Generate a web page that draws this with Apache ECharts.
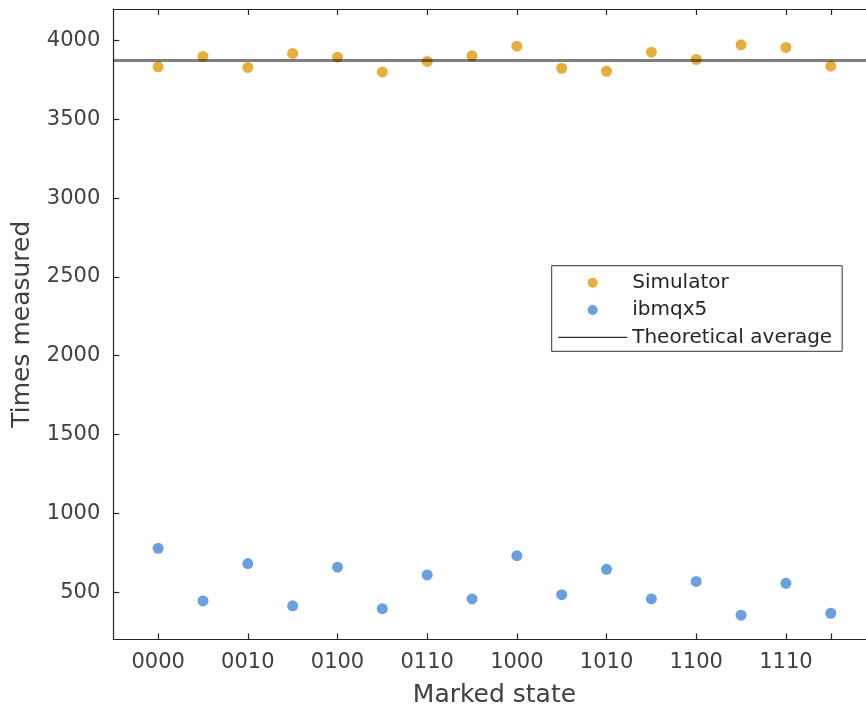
<!DOCTYPE html>
<html>
<head>
<meta charset="utf-8">
<script src="https://cdn.jsdelivr.net/npm/echarts@6/dist/echarts.min.js"></script>
<style>
  html, body { margin: 0; padding: 0; background: #fff; overflow: hidden; }
  #chart { width: 890px; height: 713px; }
</style>
</head>
<body>
<div id="chart"></div>
<script>
// Marked states (x positions are their indices)
const states = ['0000','0001','0010','0011','0100','0101','0110','0111',
                '1000','1001','1010','1011','1100','1101','1110','1111'];
// Counts per marked state
const simulator = [3833, 3899, 3829, 3918, 3894, 3801, 3867, 3903,
                   3964, 3824, 3805, 3926, 3880, 3973, 3956, 3837];
const ibmqx5 = [778, 444, 681, 413, 658, 395, 609, 457,
                731, 484, 645, 457, 568, 354, 556, 366];
const theoreticalAverage = [3873];
// Axis ranges and ticks
const xRange = [-1, 16];
const xLabelTicks = [0, 2, 4, 6, 8, 10, 12, 14];
const xTickMarks = [0, 2, 4, 6, 8, 10, 12, 14, 15];
const yRange = [200, 4200];
const yTicks = [500, 1000, 1500, 2000, 2500, 3000, 3500, 4000];

const FONT = 'DejaVu Sans';
const AXIS = '#262626';
const TEXT = '#404040';

const chart = echarts.init(document.getElementById('chart'), null, { renderer: 'canvas' });

const pts = vals => vals.map((v, i) => [i, v]);

chart.setOption({
  animation: false,
  backgroundColor: '#fff',
  grid: { left: 113.3, right: 14.4, top: 9, bottom: 73.6, containLabel: false, outerBoundsMode: 'none' },
  legend: {
    orient: 'vertical',
    left: 551.7,
    top: 265.7,
    backgroundColor: '#fff',
    borderColor: '#333',
    borderWidth: 1,
    borderRadius: 0,
    padding: [7, 10, 4, 6],
    itemWidth: 69,
    itemHeight: 10,
    itemGap: 7.3,
    textStyle: { fontFamily: FONT, fontSize: 20, color: '#262626', lineHeight: 20 },
    data: [
      { name: 'Simulator', icon: 'circle' },
      { name: 'ibmqx5', icon: 'circle' },
      {
        name: 'Theoretical average',
        lineStyle: { color: '#000', width: 1, opacity: 1 },
        itemStyle: { color: 'rgba(0,0,0,0)', borderColor: 'rgba(0,0,0,0)', borderWidth: 0, opacity: 0 }
      }
    ]
  },
  xAxis: [
    {
      type: 'value',
      min: xRange[0], max: xRange[1], interval: 1,
      position: 'bottom',
      name: 'Marked state',
      nameLocation: 'middle',
      nameGap: 44,
      nameTextStyle: { fontFamily: FONT, fontSize: 25, color: TEXT },
      axisLine: { show: true, onZero: false, lineStyle: { color: AXIS, width: 1.2 } },
      axisTick: { show: true, inside: true, length: 6, customValues: xTickMarks, lineStyle: { color: AXIS, width: 1.2 } },
      axisLabel: {
        customValues: xLabelTicks,
        formatter: v => states[v],
        margin: 13,
        fontFamily: FONT, fontSize: 21, color: TEXT
      },
      splitLine: { show: false }
    },
    {
      type: 'value',
      min: xRange[0], max: xRange[1], interval: 1,
      position: 'top',
      axisLine: { show: true, onZero: false, lineStyle: { color: AXIS, width: 1.2 } },
      axisTick: { show: true, inside: true, length: 6, customValues: xTickMarks, lineStyle: { color: AXIS, width: 1.2 } },
      axisLabel: { show: false },
      splitLine: { show: false }
    }
  ],
  yAxis: {
    type: 'value',
    min: yRange[0], max: yRange[1],
    name: 'Times measured',
    nameLocation: 'middle',
    nameGap: 78,
    nameTextStyle: { fontFamily: FONT, fontSize: 25, color: TEXT },
    axisLine: { show: true, onZero: false, lineStyle: { color: AXIS, width: 1.2 } },
    axisTick: { show: true, inside: true, length: 6, customValues: yTicks, lineStyle: { color: AXIS, width: 1.2 } },
    axisLabel: {
      customValues: yTicks,
      formatter: v => String(v),
      margin: 13, fontFamily: FONT, fontSize: 21, color: TEXT
    },
    splitLine: { show: false }
  },
  series: [
    {
      name: 'Simulator',
      type: 'scatter',
      symbol: 'circle',
      symbolSize: 11,
      itemStyle: { color: '#E8AE3B', opacity: 1 },
      data: pts(simulator)
    },
    {
      name: 'ibmqx5',
      type: 'scatter',
      symbol: 'circle',
      symbolSize: 11,
      itemStyle: { color: '#6A9FE0', opacity: 1 },
      data: pts(ibmqx5)
    },
    {
      name: 'Theoretical average',
      type: 'line',
      symbol: 'none',
      lineStyle: { color: 'rgba(0,0,0,0.5)', width: 3 },
      itemStyle: { color: '#000' },
      data: [[xRange[0], theoreticalAverage[0]], [xRange[1], theoreticalAverage[0]]]
    }
  ]
});
</script>
</body>
</html>
